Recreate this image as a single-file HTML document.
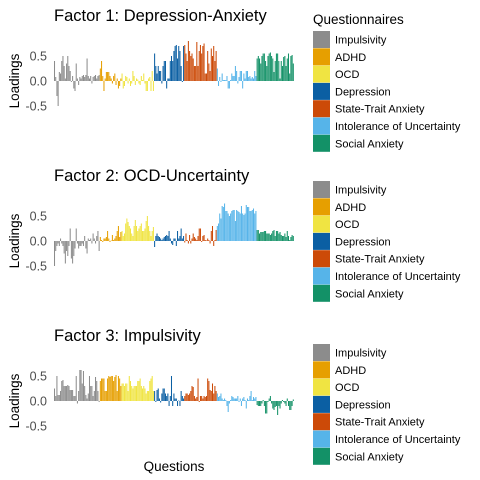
<!DOCTYPE html>
<html><head><meta charset="utf-8"><style>
body{margin:0;background:#fff;}
svg{display:block;font-family:"Liberation Sans",sans-serif;}
</style></head><body>
<svg id="chart" width="480" height="480"></svg>
<script>
const groupNames=["Impulsivity","ADHD","OCD","Depression","State-Trait Anxiety","Intolerance of Uncertainty","Social Anxiety"];
const groupColors=["#8c8c8c","#E69F00","#F0E442","#0B5FA3","#CC4A08","#56B4E9","#139167"];
const factorTitles=["Factor 1: Depression-Anxiety","Factor 2: OCD-Uncertainty","Factor 3: Impulsivity"];
const yTicks=[0.5,0,-0.5];
const yTickLabels=["0.5","0.0","-0.5"];
const f1Impulsivity=[0.4,0.08,-0.3,-0.5,0.18,0.15,0.4,0.5,0.3,0.05,0.35,0.5,0.3,0.2,-0.02,0.1,-0.15,-0.2,0.35,0.05,-0.08,0.08,0.05,0.1,0.12,0.08,0.12,0.45,0.1,0.05,0.1,-0.05,0.08,0.1,0.12,0.05,0.1,0.12];
const f1ADHD=[0.25,0.4,0.1,-0.2,0.05,0.18,0.18,0.18,0.1,0.05,-0.05,0.1,0.15,-0.08,0.05,-0.15,-0.1,0.05];
const f1OCD=[0.15,-0.15,-0.1,0.1,0.08,-0.05,0.05,-0.1,-0.05,0.2,0.1,-0.08,0.05,0.03,-0.05,-0.08,0.1,0.02,0.15,-0.05,-0.2,-0.2,0.05,0.08,-0.2,0.2,-0.2];
const f1Depression=[0.55,0.3,0.15,0.3,0.2,0.2,-0.05,0.3,0.4,0.4,-0.15,0.05,0.05,0.4,0.5,0.4,0.6,0.7,0.72,0.45,0.7,0.6,0.3,-0.02,0.7];
const f1Anxiety=[0.72,0.55,0.4,0.8,0.6,0.5,0.55,0.45,0.3,0.3,0.78,0.3,0.6,0.72,0.55,0.7,0.75,0.15,0.15,0.6,0.35,0.2,0.65,0.5,0.7,0.4,0.6];
const f1Uncertainty=[0.25,-0.1,0.08,-0.02,0.15,0.02,0.02,0.02,0.1,-0.15,-0.15,0.02,0.15,0.1,0.1,0.3,0.2,-0.05,0.08,0.2,0.2,-0.15,0.15,0.05,0.2,0.2,0.08,0.1,0.05,0.08,0.05,0.2,0.1];
const f1Social=[0.45,0.5,0.45,0.35,0.5,0.55,0.55,0.4,0.3,0.5,0.55,0.57,0.5,0.45,0.18,0.4,0.55,0.55,0.4,0.05,0.4,0.3,0.48,0.5,0.3,0.45,0.55,0.15,0.5,0.52,0.35];
const f2Impulsivity=[-0.5,-0.2,-0.1,-0.05,-0.1,0.05,-0.05,-0.1,-0.25,-0.45,-0.2,-0.3,-0.1,0.25,-0.35,-0.45,-0.3,-0.15,0.25,-0.05,-0.15,-0.1,-0.1,-0.05,-0.1,0.1,-0.15,-0.25,0.05,0.02,0.05,-0.05,0.15,0.05,-0.05,0.1,0.2,-0.2];
const f2ADHD=[0.08,0.02,-0.02,0.05,0.05,0.08,0.2,0.05,-0.02,0.01,0.12,0.02,0.05,0.1,0.2,0.3,0.08,0.18];
const f2OCD=[0.2,0.1,0.15,0.35,0.45,0.38,0.3,0.25,0.15,0.1,0.3,0.42,0.3,0.2,0.25,0.3,0.35,0.2,0.2,0.25,0.4,0.5,0.3,0.2,0.1,0.2,0.28];
const f2Depression=[-0.12,0.1,0.15,0.1,0.08,0.05,0.02,0.05,0.08,0.1,0.12,0.1,0.2,0.05,-0.05,-0.08,0.05,0.05,-0.1,0.2,0.05,0.1,0.25,0.05,0.1];
const f2Anxiety=[-0.03,0.15,0.02,-0.05,0.12,-0.05,0.05,0.15,0.08,0.05,0.02,0.1,0.25,0.25,-0.02,0.1,0.12,0.02,0.01,0.05,0.02,-0.05,0.2,0.3,-0.1,0.02,0.22];
const f2Uncertainty=[0.3,0.35,0.55,0.45,0.7,0.68,0.75,0.6,0.6,0.55,0.5,0.55,0.6,0.62,0.62,0.4,0.62,0.6,0.58,0.55,0.7,0.55,0.52,0.55,0.72,0.68,0.68,0.6,0.6,0.62,0.65,0.55,0.6];
const f2Social=[0.22,0.22,0.15,0.18,0.18,0.18,0.2,0.2,0.15,0.15,0.15,0.12,0.15,0.2,0.22,0.1,0.2,0.2,0.15,0.18,0.12,0.1,0.1,0.15,0.08,0.2,0.1,0.02,0.08,0.12,0.1];
const f3Impulsivity=[0.25,0.1,0.5,0.12,0.12,0.2,0.4,0.42,0.3,0.3,0.3,0.32,0.3,0.22,0.22,0.22,0.1,0.1,0.5,-0.05,0.2,0.62,0.62,0.35,0.6,0.3,0.12,0.05,0.15,0.5,0.3,0.3,0.1,0.2,0.48,0.4,0.2,-0.02];
const f3ADHD=[0.4,0.45,0.45,0.45,0.2,0.2,0.45,0.5,0.48,0.5,0.5,0.4,0.48,0.52,0.2,0.5,0.45,0.3];
const f3OCD=[0.35,0.35,0.3,0.35,0.35,0.2,0.5,0.4,0.3,0.25,0.3,0.3,0.3,0.4,0.4,0.45,0.3,0.25,0.3,0.25,0.15,0.2,0.2,0.4,0.45,0.5,0.2];
const f3Depression=[0.2,-0.02,0.22,0.25,0.05,-0.03,0.15,0.25,0.25,0.15,0.1,0.15,-0.1,0.1,0.5,-0.1,0.15,0.05,0.05,-0.1,0.01,-0.1,0.2,0.1,0.05];
const f3Anxiety=[0.1,0.15,0.15,0.12,0.15,0.2,0.3,0.28,0.1,0.05,0.08,0.45,-0.02,0.1,0.1,0.05,0.1,0.08,0.1,0.45,0.4,0.22,0.2,0.35,0.15,0.3,0.2];
const f3Uncertainty=[0.15,0.08,0.1,0.15,0.05,0.02,0.05,0.02,-0.1,-0.22,-0.05,0.02,0.1,0.08,0.05,0.05,0.05,0.1,-0.02,0.05,-0.1,0.05,0.08,0.02,-0.15,0.05,0.02,0.1,0.2,0.02,0.08,0.05,0.08];
const f3Social=[-0.08,-0.1,-0.1,-0.1,-0.05,0.02,-0.1,-0.25,-0.25,-0.02,0.05,0.1,-0.05,-0.15,-0.18,-0.12,-0.1,-0.28,-0.1,-0.15,-0.05,0.02,-0.02,-0.05,-0.1,0.05,-0.1,-0.18,-0.18,-0.1,0.03];

const factors=[
 [f1Impulsivity,f1ADHD,f1OCD,f1Depression,f1Anxiety,f1Uncertainty,f1Social],
 [f2Impulsivity,f2ADHD,f2OCD,f2Depression,f2Anxiety,f2Uncertainty,f2Social],
 [f3Impulsivity,f3ADHD,f3OCD,f3Depression,f3Anxiety,f3Uncertainty,f3Social]
];
const NS="http://www.w3.org/2000/svg";
const svg=document.getElementById('chart');
function mk(tag,attrs,parent){const e=document.createElementNS(NS,tag);for(const k in attrs)e.setAttribute(k,attrs[k]);(parent||svg).appendChild(e);return e;}
const X0=54,X1=294;
factors.forEach((groups,fi)=>{
  const off=fi*160;
  const zeroY=81+off;
  const y=v=>zeroY-v*50;
  const g=mk('g',{});
  
  
  const t=mk('text',{x:54,y:21+off,'font-size':16.5,fill:'#000'},g);
  t.textContent=factorTitles[fi];
  
  
  const yl=mk('text',{transform:`translate(19,${zeroY}) rotate(-90)`,'text-anchor':'middle','font-size':13.5,fill:'#000'},g);
  yl.textContent='Loadings';
  
  
  yTicks.forEach((v,i)=>{
    const tl=mk('text',{x:47,y:y(v)+4.5,'text-anchor':'end','font-size':12.5,fill:'#4d4d4d'},g);
    tl.textContent=yTickLabels[i];
    
    
  });
  const total=groups.reduce((a,b)=>a+b.length,0);
  const bw=(X1-X0)/total;
  let idx=0;
  groups.forEach((vals,gi)=>{
    vals.forEach(v=>{
      const x=X0+idx*bw;
      const r=mk('rect',{x:x.toFixed(2),y:Math.min(y(v),zeroY).toFixed(2),width:(bw*0.85).toFixed(2),height:Math.abs(y(v)-zeroY).toFixed(2),fill:groupColors[gi]},g);
      
      
      idx++;
    });
  });
  const lg=mk('g',{});
  
  
  if(fi===0){
    const lt=mk('text',{x:313,y:24,'font-size':13.5,fill:'#000'},lg);
    lt.textContent='Questionnaires';
    
    
  }
  const ly0=[31,181,344][fi];
  groupNames.forEach((n,i)=>{
    const yy=ly0+i*17.3;
    const sq=mk('rect',{x:313,y:yy,width:17,height:17,fill:groupColors[i]},lg);
    
    
    const tx=mk('text',{x:335,y:yy+12.5,'font-size':11,fill:'#000'},lg);
    tx.textContent=n;
    
    
  });
});
const xt=mk('text',{x:174,y:471,'text-anchor':'middle','font-size':13.5,fill:'#000'});
xt.textContent='Questions';


</script>
</body></html>
